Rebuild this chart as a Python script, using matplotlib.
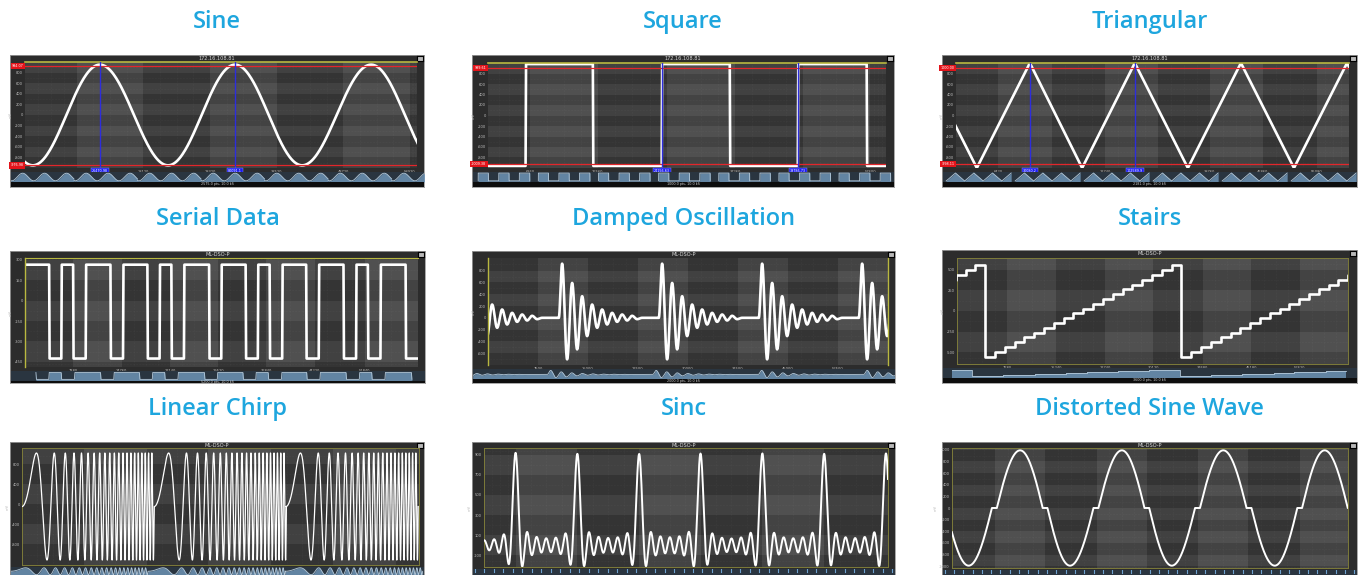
import numpy as np
import matplotlib
matplotlib.use("Agg")
import matplotlib.pyplot as plt
import matplotlib.transforms as mtrans

# ------------------------------------------------------------------ data
titles = ["Sine", "Square", "Triangular",
          "Serial Data", "Damped Oscillation", "Stairs",
          "Linear Chirp", "Sinc", "Distorted Sine Wave"]
headers = ["172.16.108.81", "172.16.108.81", "172.16.108.81",
           "ML-DSO-P", "ML-DSO-P", "ML-DSO-P",
           "ML-DSO-P", "ML-DSO-P", "ML-DSO-P"]
footers = ["2575.0 pts, 10.0 kS", "1000.0 pts, 10.0 kS", "2181.0 pts, 10.0 kS",
           "5200.0 pts, 10.0 kS", "2000.0 pts, 10.0 kS", "3600.0 pts, 10.0 kS",
           "", "", ""]

# x = screen sample (0..1000 across the plot), y = mV
sine_ext_x = [-152, 20, 191, 365, 536, 707, 883, 1055]
sine_ext_y = [950, -950, 950, -950, 950, -950, 950, -950]
sine_refs_y = [930, -950]
sine_ref_labels = ["994.07", "-976.98"]
sine_cursor_x = [191, 536]
sine_cursor_labels = ["26470.98", "80091.1"]
sine_xticks = [132, 302, 472, 642, 812, 982]
sine_yticks = [800, 600, 400, 200, 0, -200, -400, -600, -800]

square_edges_x = [95, 264, 437, 608, 779, 952]
square_levels_y = [-960, 980, -960, 980, -960, 980, -960]
square_refs_y = [900, -920]
square_ref_labels = ["999.61", "-1009.38"]
square_cursor_x = [437, 779]
square_cursor_labels = ["24156.63", "39786.73"]
square_xticks = [106, 276, 450, 621, 791, 960]
square_yticks = [800, 600, 400, 200, 0, -200, -400, -600, -800]

tri_vert_x = [-82, 53, 188, 321, 455, 590, 725, 860, 995, 1130]
tri_vert_y = [1000, -1000, 1000, -1000, 1000, -1000, 1000, -1000, 1000, -1000]
tri_refs_y = [900, -920]
tri_ref_labels = ["1000.00", "-998.11"]
tri_cursor_x = [188, 455]
tri_cursor_labels = ["30080.2", "102589.9"]
tri_xticks = [107, 244, 379, 514, 646, 781, 918]
tri_yticks = [800, 600, 400, 200, 0, -200, -400, -600, -800]

serial_edges_x = [62, 93, 123, 155, 218, 250, 312, 343, 373, 405, 469, 500,
                  562, 593, 623, 655, 716, 748, 811, 843, 873, 905, 969]
serial_high, serial_low = 263, -425
serial_xticks = [123, 246, 369, 492, 614, 737, 864]
serial_yticks = [300, 150, 0, -150, -300, -450]

damped_burst_x = [-73, 177, 427, 677, 927]
damped_peaks_y = [918, -704, 591, -535, 366, -310, 225, -169,
                  141, -113, 84, -68, 56, -45, 34, -23]
damped_first_dx, damped_half_period = 8.3, 12.5
damped_xticks = [125, 250, 375, 500, 625, 750, 875]
damped_yticks = [800, 600, 400, 200, 0, -200, -400, -600]

stairs_levels_y = [-550, -492, -434, -376, -318, -261, -203, -145, -87, -29,
                   29, 87, 145, 203, 261, 318, 376, 434, 492, 550]
stairs_reset_x = [-430, 72, 574]
stairs_step_w = 25.1
stairs_xticks = [128, 254, 379, 502, 628, 753, 877]
stairs_yticks = [500, 250, 0, -250, -500]

chirp_start_x = [0, 333, 665]
chirp_len, chirp_cycles = 333, 21
chirp_amp, chirp_offset = 1067, -47
chirp_xticks = [155, 314, 469, 628, 784, 943]
chirp_yticks = [800, 400, 0, -400, -800]

sinc_peak_x = [-76, 78, 231, 384, 536, 689, 842, 995, 1148]
sinc_peak_y = 957
sinc_width = 11.2
sinc_xticks = [78, 231, 384, 536, 689, 842]
sinc_yticks = [900, 700, 500, 300, 100, -100]

dist_ext_x = [-86, 42, 172, 298, 429, 555, 685, 815, 941, 1070]
dist_ext_y = [1000, -1000, 1000, -1000, 1000, -1000, 1000, -1000, 1000, -1000]
dist_dead_zone = 0.15
dist_xticks = [109, 235, 366, 492, 622, 748, 878]
dist_yticks = [1000, 800, 600, 400, 200, 0, -200, -400, -600, -800, -1000]

# ------------------------------------------------------------------ helpers
W, H = 1364, 575
fig = plt.figure(figsize=(W / 100, H / 100), dpi=100)
fig.patch.set_facecolor("white")


def box(x0, y0, x1, y1):
    return [x0 / W, 1 - y1 / H, (x1 - x0) / W, (y1 - y0) / H]


def cos_path(xs, ys, n=80):
    X, Y = [], []
    for i in range(len(xs) - 1):
        t = np.linspace(0, 1, n)
        X.append(xs[i] + (xs[i + 1] - xs[i]) * t)
        Y.append(ys[i] + (ys[i + 1] - ys[i]) * (1 - np.cos(np.pi * t)) / 2)
    return np.concatenate(X), np.concatenate(Y)


def step_path(edges, levels, ramp=1.2):
    xs, ys = [-20], [levels[0]]
    for e, a, b in zip(edges, levels[:-1], levels[1:]):
        xs += [e - ramp / 2, e + ramp / 2]
        ys += [a, b]
    xs.append(1020)
    ys.append(levels[-1])
    return np.array(xs, float), np.array(ys, float)


def lin_path(xs, ys):
    return np.array(xs, float), np.array(ys, float)


# waveforms -------------------------------------------------------
waves = []
waves.append(cos_path(sine_ext_x, sine_ext_y))
waves.append(step_path(square_edges_x, square_levels_y))
waves.append(lin_path(tri_vert_x, tri_vert_y))
serial_levels = [serial_high if i % 2 == 0 else serial_low for i in range(len(serial_edges_x) + 1)]
waves.append(step_path(serial_edges_x, serial_levels))

# damped
dx_all, dy_all = [-20], [0]
for b in damped_burst_x:
    ex = [b] + [b + damped_first_dx + k * damped_half_period for k in range(len(damped_peaks_y))]
    ex.append(ex[-1] + damped_half_period)
    ey = [0] + damped_peaks_y + [0]
    px, py = cos_path(ex, ey, n=30)
    dx_all += list(px)
    dy_all += list(py)
dx_all.append(1020)
dy_all.append(0)
waves.append((np.array(dx_all), np.array(dy_all)))

# stairs
sx, sy = [], []
for r in stairs_reset_x:
    for k, lv in enumerate(stairs_levels_y):
        sx += [r + k * stairs_step_w, r + (k + 1) * stairs_step_w]
        sy += [lv, lv]
waves.append((np.array(sx), np.array(sy)))

# chirp
cx, cy = [], []
for s in chirp_start_x:
    t = np.linspace(0, chirp_len, 6000)
    cx.append(s + t)
    cy.append(chirp_offset + chirp_amp * np.sin(2 * np.pi * chirp_cycles * (t / chirp_len) ** 2))
waves.append((np.concatenate(cx), np.concatenate(cy)))

# sinc
zx = np.linspace(0, 1000, 6000)
zy = np.zeros_like(zx)
for p in sinc_peak_x:
    zy += sinc_peak_y * np.sinc((zx - p) / sinc_width)
waves.append((zx, zy))

# distorted sine (crossover dead zone)
qx, qy = cos_path(dist_ext_x, dist_ext_y, n=200)
qn = qy / 1000.0
qn = np.sign(qn) * np.clip(np.abs(qn) - dist_dead_zone, 0, None) / (1 - dist_dead_zone)
waves.append((qx, qn * 990))

# ------------------------------------------------------------------ layout
frames = [(10, 55, 424, 187), (472, 55, 894, 187), (942, 55, 1357, 187),
          (10, 251, 425, 383), (472, 251, 895, 383), (942, 250, 1357, 383),
          (10, 442, 424, 580), (472, 442, 895, 580), (942, 442, 1357, 580)]
plots = [(25, 62, 417, 168), (488, 63, 886, 168), (956, 63, 1349, 168),
         (25, 258, 418, 367), (488, 258, 888, 365), (957, 258, 1348, 364),
         (22, 448, 419, 565), (484, 448, 888, 567), (952, 448, 1348, 568)]
ylims = [(-1000, 1000), (-1000, 1000), (-1000, 1000),
         (-487, 312), (-800, 1014), (-639, 639),
         (-1213, 1120), (-217, 967), (-1030, 1030)]
xticks_all = [sine_xticks, square_xticks, tri_xticks, serial_xticks, damped_xticks,
              stairs_xticks, chirp_xticks, sinc_xticks, dist_xticks]
yticks_all = [sine_yticks, square_yticks, tri_yticks, serial_yticks, damped_yticks,
              stairs_yticks, chirp_yticks, sinc_yticks, dist_yticks]
refs = {0: (sine_refs_y, sine_ref_labels, sine_cursor_x, sine_cursor_labels),
        1: (square_refs_y, square_ref_labels, square_cursor_x, square_cursor_labels),
        2: (tri_refs_y, tri_ref_labels, tri_cursor_x, tri_cursor_labels)}
ov_tiles = [6.5, 7, 6, 1, 1, 1, 1, 1, 1]
title_y = [22, 22, 22, 219, 219, 219, 409, 409, 409]

TITLE_C = "#1ea6de"
YEL = "#b9b840"

for i in range(9):
    fx0, fy0, fx1, fy1 = frames[i]
    px0, py0, px1, py1 = plots[i]
    ylim = ylims[i]
    xt, yt = xticks_all[i], yticks_all[i]

    # title
    fig.text((fx0 + fx1) / 2 / W, 1 - title_y[i] / H, titles[i], ha="center", va="center",
             fontsize=17, color=TITLE_C, family="Open Sans", fontweight="semibold")

    # frame
    fa = fig.add_axes(box(fx0, fy0, fx1, fy1))
    fa.set_facecolor("#2c2c2c")
    fa.set_xticks([])
    fa.set_yticks([])
    for s in fa.spines.values():
        s.set_color("#9a9a9a")
        s.set_linewidth(0.6)
    fig.text((fx0 + fx1) / 2 / W, 1 - (fy0 + 3.5) / H, headers[i], ha="center", va="center",
             fontsize=3.6, color="#d8d8d8")
    # small icon top-right
    ic = fig.add_axes(box(fx1 - 7, fy0 + 1, fx1 - 1, fy0 + 6))
    ic.set_facecolor("#b8b8b8")
    ic.set_xticks([])
    ic.set_yticks([])

    # main plot
    ax = fig.add_axes(box(px0, py0, px1, py1))
    ax.set_xlim(0, 1000)
    ax.set_ylim(*ylim)
    xb = [0] + [t for t in xt if 0 < t < 1000] + [1000]
    yb = [ylim[0]] + sorted([t for t in yt if ylim[0] < t < ylim[1]]) + [ylim[1]]
    Z = np.zeros((len(yb) - 1, len(xb) - 1))
    for r in range(len(yb) - 1):
        for c in range(len(xb) - 1):
            Z[r, c] = 0.205 + 0.06 * (c % 2 == 1) + 0.05 * (r % 2 == 1)
    ax.pcolormesh(xb, yb, Z, cmap="gray", vmin=0, vmax=1, shading="flat", zorder=0)
    # faint dotted sub-grid
    for a, b in zip(xb[:-1], xb[1:]):
        for f in (0.25, 0.5, 0.75):
            ax.axvline(a + (b - a) * f, color="white", alpha=0.07, lw=0.4, ls=":", zorder=1)
    for a, b in zip(yb[:-1], yb[1:]):
        ax.axhline((a + b) / 2, color="white", alpha=0.07, lw=0.4, ls=":", zorder=1)

    wx, wy = waves[i]
    lw = 1.9 if i < 6 else 1.4
    if i == 6:
        lw = 0.9
    ax.plot(wx, wy, color="white", lw=lw, zorder=4, solid_joinstyle="round")

    # x tick labels (skip the ones hidden by cursor boxes)
    cur = refs[i][2] if i in refs else []
    ax.set_xticks(xt)
    ax.set_xticklabels(["" if any(abs(v - c) < 60 for c in cur) else str(int(v * 60)) for v in xt])
    ax.set_yticks(yt)
    ax.set_yticklabels([str(v) for v in yt])
    ax.tick_params(axis="both", length=0, pad=1.5, labelsize=2.6, labelcolor="#bdbdbd")
    for s in ax.spines.values():
        s.set_visible(False)
    ax.set_ylabel("mV", fontsize=2.6, color="#bdbdbd", labelpad=1.5)

    # borders (yellow)
    if i < 3:
        ax.axhline(ylim[1], color=YEL, lw=1.2, zorder=5, clip_on=False)
    elif i == 3:
        ax.axhline(ylim[1], color=YEL, lw=0.8, zorder=5, clip_on=False)
        ax.axvline(0, color=YEL, lw=1.0, zorder=5, clip_on=False)
    elif i == 4:
        ax.axvline(0, color=YEL, lw=1.0, zorder=5, clip_on=False)
        ax.axvline(1000, color=YEL, lw=1.0, zorder=5, clip_on=False)
    else:
        for s in ax.spines.values():
            s.set_visible(True)
            s.set_color("#7d7b3a")
            s.set_linewidth(0.7)

    # reference lines & cursors (first row)
    if i in refs:
        ry, rl, cxs, cls = refs[i]
        bt = mtrans.blended_transform_factory(ax.transAxes, ax.transData)
        for yv, lab in zip(ry, rl):
            ax.axhline(yv, color="#e3262b", lw=0.9, zorder=5)
            ax.text(-0.004, yv, lab, transform=bt, ha="right", va="center", fontsize=2.4,
                    color="white", zorder=7, clip_on=False,
                    bbox=dict(boxstyle="square,pad=0.35", fc="#e3141b", ec="none"))
        for xv, lab in zip(cxs, cls):
            ax.axvline(xv, color="#2d2ddc", lw=1.0, zorder=6)
            ax.text(xv, ylim[0] - 0.03 * (ylim[1] - ylim[0]), lab, ha="center", va="center",
                    fontsize=2.4, color="white", zorder=7, clip_on=False,
                    bbox=dict(boxstyle="square,pad=0.35", fc="#1c1cf0", ec="#9a9aff", lw=0.3))

    # overview strip
    if i < 6:
        oy0 = py1 + 4
        oy1 = oy0 + 10
    else:
        oy0, oy1 = py1 + 1.5, 576
    oa = fig.add_axes(box(fx0 + 0.5, oy0, fx1 - 0.5, oy1))
    oa.set_facecolor("#2a3540")
    oa.set_xticks([])
    oa.set_yticks([])
    for s in oa.spines.values():
        s.set_visible(False)
    oa.set_xlim(0, 1000)
    oa.set_ylim(0, 1)
    k = ov_tiles[i]
    m = (wx >= 0) & (wx <= 1000)
    tx, ty = wx[m], (wy[m] - ylim[0]) / (ylim[1] - ylim[0])
    ntile = int(np.ceil(k))
    if i in (7, 8):
        for t in np.linspace(5, 995, 45):
            oa.plot([t, t], [0.5, 1.0], color="#6fa2cf", lw=0.8)
    else:
        for j in range(ntile):
            xx = (tx + j * 1000) / k
            yy = 0.1 + 0.8 * ty
            oa.fill_between(xx, yy, 0, color="#6d93b4", lw=0, alpha=0.85)
            oa.plot(xx, yy, color="#b4c9da", lw=0.6)
    if footers[i]:
        fa2 = fig.add_axes(box(fx0 + 0.5, oy1, fx1 - 0.5, fy1 - 0.5))
        fa2.set_facecolor("#0d0d0d")
        fa2.set_xticks([])
        fa2.set_yticks([])
        for s in fa2.spines.values():
            s.set_visible(False)
        fig.text((fx0 + fx1) / 2 / W, 1 - (oy1 + (fy1 - oy1) / 2) / H, footers[i],
                 ha="center", va="center", fontsize=2.4, color="#cfcfcf")

fig.savefig("out.png", dpi=100, facecolor="white")
